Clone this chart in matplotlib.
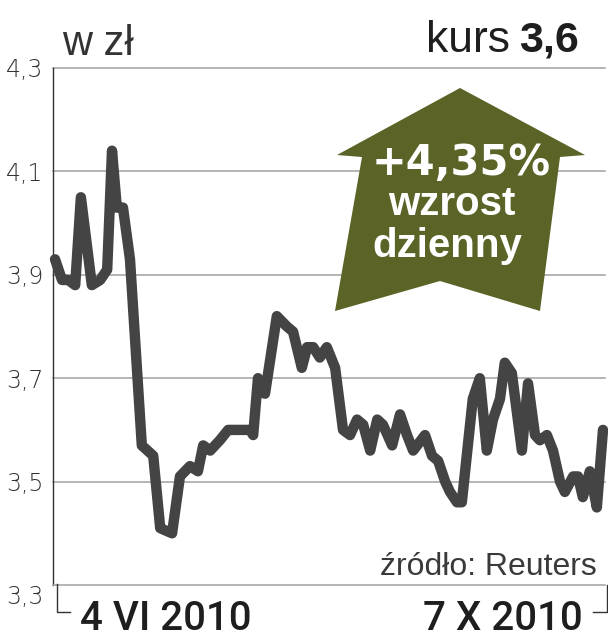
import matplotlib as mpl
import matplotlib.pyplot as plt
from matplotlib.patches import Polygon
from matplotlib.lines import Line2D

mpl.rcParams.update({"font.family": ["Liberation Sans", "DejaVu Sans"]})

# ====== Data: kurs w zł, dni od 4 VI 2010 ======
days = [0, 1.6, 3.0, 4.6, 5.9, 8.4, 10.3, 11.9, 13.0, 14.1, 15.5, 17.1, 19.8, 22.4,
        24.0, 26.7, 28.5, 30.8, 32.6, 33.8, 35.4, 37.6, 39.5, 44.5, 45.2, 46.3, 47.9,
        50.6, 52.9, 54.3, 56.3, 57.5, 58.9, 60.4, 62.0, 63.9, 65.7, 67.3, 68.9, 70.3,
        71.9, 73.5, 74.8, 76.9, 78.7, 80.3, 81.7, 84.4, 86.0, 87.4, 89.0, 90.1, 91.7,
        92.8, 95.3, 96.9, 98.5, 99.9, 101.5, 102.6, 104.2, 106.5, 107.9, 109.5, 110.6,
        112.2, 113.6, 115.2, 116.3, 118.2, 119.3, 120.4, 122.0, 123.6, 125.0]
price = [3.93, 3.89, 3.89, 3.88, 4.05, 3.88, 3.89, 3.91, 4.14, 4.03, 4.03, 3.93, 3.57, 3.55,
         3.41, 3.40, 3.51, 3.53, 3.52, 3.57, 3.56, 3.58, 3.60, 3.60, 3.59, 3.70, 3.67,
         3.82, 3.80, 3.79, 3.72, 3.76, 3.76, 3.74, 3.76, 3.72, 3.60, 3.59, 3.62, 3.61,
         3.56, 3.62, 3.61, 3.57, 3.63, 3.59, 3.56, 3.59, 3.55, 3.54, 3.50, 3.48, 3.46,
         3.46, 3.66, 3.70, 3.56, 3.62, 3.66, 3.73, 3.71, 3.56, 3.69, 3.59, 3.58,
         3.59, 3.56, 3.50, 3.48, 3.51, 3.51, 3.47, 3.52, 3.45, 3.60]
yticks = [3.3, 3.5, 3.7, 3.9, 4.1, 4.3]
ytick_labels = ["3,3", "3,5", "3,7", "3,9", "4,1", "4,3"]
date_start, date_end = "4 VI 2010", "7 X 2010"
change_txt = "+4,35%"
kurs_txt = "3,6"

W, H = 608, 640
fig = plt.figure(figsize=(W / 100, H / 100), dpi=100)
fx = lambda px: px / W
fy = lambda py: 1 - py / H

DARK = "#444444"
GRID = "#a0a0a0"
OLIVE = "#5b6327"

ax = fig.add_axes([fx(53), fy(585), (605 - 53) / W, (585 - 68) / H])
ax.set_ylim(3.3, 4.3)
ax.set_xlim(-0.46, 125.46)
for y in yticks[1:]:
    ax.axhline(y, color=GRID, lw=1.1, zorder=1, clip_on=False)
ax.plot(days, price, color=DARK, lw=7.5, solid_joinstyle="round",
        solid_capstyle="round", zorder=3, clip_on=False)

for s in ["top", "right"]:
    ax.spines[s].set_visible(False)
ax.spines["left"].set_color("#333333")
ax.spines["left"].set_linewidth(1.0)
ax.spines["bottom"].set_color(GRID)
ax.spines["bottom"].set_linewidth(1.1)
ax.set_xticks([])
ax.set_yticks(yticks)
ax.set_yticklabels(ytick_labels, family=["DejaVu Sans"], fontsize=17,
                   fontweight="light", color="#333333")
ax.tick_params(axis="y", length=0, pad=7)
ax.get_yticklabels()[0].set_va("top")

# brackets under the x axis
fig.add_artist(Line2D([fx(57), fx(57), fx(70)], [fy(584), fy(612), fy(612)],
                      color="#333333", lw=1.0))
fig.add_artist(Line2D([fx(607), fx(607), fx(593)], [fy(585), fy(612), fy(612)],
                      color="#333333", lw=1.0))
date_font = dict(family=["Roboto", "Liberation Sans"], fontweight="medium",
                 fontsize=29, color="#1e1e1e", va="baseline")
fig.text(fx(80), fy(630), date_start, ha="left", **date_font)
fig.text(fx(583), fy(630), date_end, ha="right", **date_font)

# headers
fig.text(fx(62), fy(55), "w zł", fontsize=30, color="#333333", va="baseline")
fig.text(fx(426), fy(52), "kurs", fontsize=32, color="#1e1e1e", ha="left", va="baseline")
fig.text(fx(519), fy(52), kurs_txt, fontsize=31, fontweight="bold", color="#1e1e1e",
         ha="left", va="baseline")
fig.text(fx(597), fy(575), "źródło: Reuters", fontsize=23, color="#3a3a3a",
         ha="right", va="baseline")

# arrow badge
arrow_px = [(460, 88), (585, 155), (560, 157), (540, 311), (440, 281),
            (335, 311), (362, 157), (337, 155)]
fig.add_artist(Polygon([(fx(x), fy(y)) for x, y in arrow_px], closed=True,
                       transform=fig.transFigure, facecolor=OLIVE, edgecolor="none",
                       zorder=5))
fig.text(fx(461), fy(175), change_txt, family=["DejaVu Sans"], fontsize=30,
         fontweight="bold", color="white", ha="center", va="baseline", zorder=6)
fig.text(fx(452), fy(215), "wzrost", fontsize=29, fontweight="bold", color="white",
         ha="center", va="baseline", zorder=6)
fig.text(fx(447), fy(257), "dzienny", fontsize=29, fontweight="bold", color="white",
         ha="center", va="baseline", zorder=6)

fig.savefig("out.png", dpi=100)
